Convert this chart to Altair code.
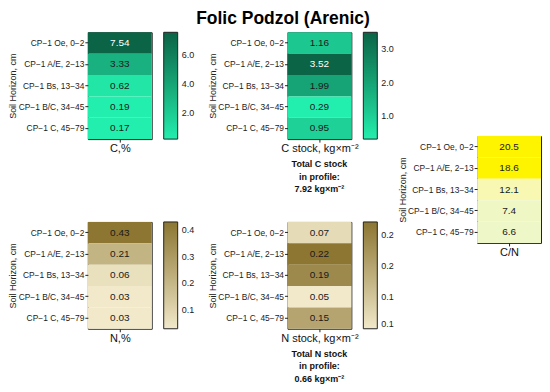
import altair as alt
import pandas as pd

FONT = "Liberation Sans"

horizons = ["CP−1 Oe, 0−2", "CP−1 A/E, 2−13", "CP−1 Bs, 13−34", "CP−1 B/C, 34−45", "CP−1 C, 45−79"]
c_pct = [7.54, 3.33, 0.62, 0.19, 0.17]
c_stock = [1.16, 3.52, 1.99, 0.29, 0.95]
c_n = [20.5, 18.6, 12.1, 7.4, 6.6]
n_pct = [0.43, 0.21, 0.06, 0.03, 0.03]
n_stock = [0.07, 0.22, 0.19, 0.05, 0.15]

c_note = ["Total C stock", "in profile:", "7.92 kg×m⁻²"]
n_note = ["Total N stock", "in profile:", "0.66 kg×m⁻²"]

GREEN = ["#22efad", "#0b6446"]
BEIGE = ["#f1e9ca", "#8c7632"]
YELLOW = ["#eef7c8", "#f8f8b2", "#fff400", "#fff400"]

W, H = 64, 107


def heatmap(vals, xtitle, cdomain, crange, fmt, legend, white_above, note=None):
    df = pd.DataFrame({"horizon": horizons, "value": vals, "col": [xtitle] * len(vals)})
    base = alt.Chart(df)
    xenc = alt.X("col:N", axis=alt.Axis(labels=False, ticks=True, tickSize=3, tickColor="#222",
                                        domain=False, title=xtitle, titleFontSize=11,
                                        titleFontWeight="normal", titleColor="#111",
                                        titlePadding=0, titleFont=FONT))
    yenc = alt.Y("horizon:N", sort=horizons,
                 axis=alt.Axis(title="Soil Horizon, cm", titleFontSize=9, titleFontWeight="normal",
                               titleColor="#222", titleFont=FONT, titleX=-70,
                               labelFontSize=8.4, labelColor="#222", labelFont=FONT, labelPadding=1,
                               tickSize=3, tickColor="#222", domain=False))
    rect = base.mark_rect().encode(
        x=xenc, y=yenc,
        color=alt.Color("value:Q", scale=alt.Scale(domain=cdomain, range=crange), legend=legend),
    )
    text = base.mark_text(fontSize=10, font=FONT).encode(
        x="col:N", y=alt.Y("horizon:N", sort=horizons),
        text=alt.Text("value:Q", format=fmt),
        color=alt.condition(alt.datum.value > white_above, alt.value("white"), alt.value("#1a1a1a")),
    )
    layers = [rect, text]
    if note is not None:
        ndf = pd.DataFrame({"t": ["\n".join(note)]})
        layers.append(
            alt.Chart(ndf).mark_text(fontSize=9, fontWeight="bold", font=FONT, baseline="top",
                                     align="center", lineBreak="\n", lineHeight=12.5, color="#111")
            .encode(x=alt.value(W / 2), y=alt.value(H + 21), text="t:N")
        )
    return alt.layer(*layers).properties(
        width=W, height=H, view=alt.ViewBackground(stroke="#222", strokeWidth=1)
    )


def leg(values, fmt=None, expr=None):
    kw = dict(values=values, title=None, gradientLength=H, gradientThickness=14,
              gradientStrokeColor="#222", gradientStrokeWidth=1, labelFontSize=9,
              labelColor="#222", labelFont=FONT, labelOffset=4, offset=12, padding=0,
              direction="vertical")
    if fmt:
        kw["format"] = fmt
    if expr:
        kw["labelExpr"] = expr
    return alt.Legend(**kw)


p1 = heatmap(c_pct, "C,%", [min(c_pct), max(c_pct)], GREEN, ".2f", leg([2, 4, 6], ".1f"), 7.0)
p2 = heatmap(c_stock, "C stock, kg×m⁻²", [min(c_stock), max(c_stock)], GREEN, ".2f",
             leg([1, 2, 3], ".1f"), 3.4, note=c_note)
p3 = heatmap(c_n, "C/N", [6.6, 12.1, 18.6, 20.5], YELLOW, ".1f", None, 1e9)
p4 = heatmap(n_pct, "N,%", [min(n_pct), max(n_pct)], BEIGE, ".2f", leg([0.1, 0.2, 0.3, 0.4], ".1f"), 1e9)
p5 = heatmap(n_stock, "N stock, kg×m⁻²", [min(n_stock), max(n_stock)], BEIGE, ".2f",
             leg([0.05, 0.1, 0.15, 0.2], expr="datum.value < 0.12 ? '0.1' : '0.2'"), 1e9, note=n_note)

spacer = alt.Chart(pd.DataFrame({"v": [0]})).mark_rect(opacity=0).encode(
    x=alt.value(0), x2=alt.value(1), y=alt.value(0), y2=alt.value(1)
).properties(width=1, height=102)

RES = dict(color="independent", x="independent", y="independent")
top = alt.hconcat(p1, p2, spacing=12).resolve_scale(**RES)
bottom = alt.hconcat(p4, p5, spacing=12).resolve_scale(**RES)
left = alt.vconcat(top, bottom, spacing=26).resolve_scale(**RES)
right = alt.vconcat(spacer, p3, spacing=0).resolve_scale(**RES)

chart = alt.hconcat(left, right, spacing=2).resolve_scale(**RES).properties(
    title=alt.TitleParams("Folic Podzol (Arenic)", fontSize=17.5, fontWeight="bold", font=FONT,
                          color="#000", anchor="middle", dx=8, offset=4),
    padding={"left": 0, "top": 2, "right": 0, "bottom": 0},
    background="white",
).configure_view(stroke="transparent")

chart.save("out.html", embed_options={"renderer": "svg", "actions": False})
